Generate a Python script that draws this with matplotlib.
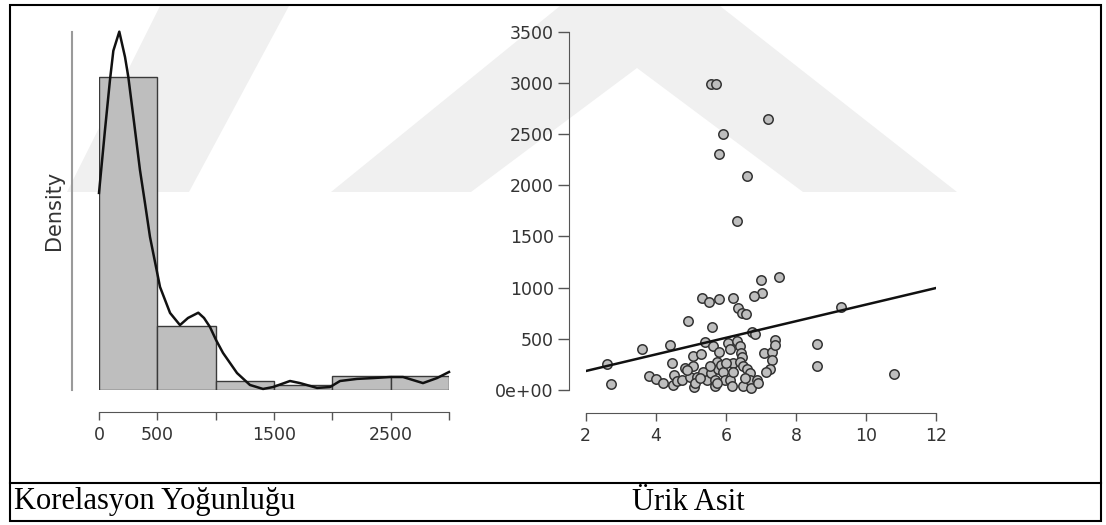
"""
Korelasyon Yoğunluğu histogram + density, Ürik Asit scatter with fit line.
"""
import matplotlib
matplotlib.use("Agg")
import matplotlib.pyplot as plt
from matplotlib.patches import Polygon, Rectangle
from matplotlib.lines import Line2D
import numpy as np

W, H = 1106, 525

# ── data ────────────────────────────────────────────────────────────────
uric = [5.59, 5.72, 7.21, 5.93, 5.81, 6.61, 6.31, 7.52, 7.00,
        7.02, 6.80, 5.31, 5.52, 5.81, 6.21, 6.35, 6.47, 6.59, 4.91, 5.61, 6.74, 6.82, 9.30,
        2.60, 2.72, 3.62, 3.80, 4.02, 4.22, 4.41, 4.45, 4.52, 4.50,
        4.62, 4.74, 4.83, 4.98, 5.07, 5.10, 5.07, 5.17, 5.12, 5.28,
        5.36, 5.40, 5.45, 5.59, 5.64, 5.69, 5.69, 5.74, 5.78, 5.81,
        5.85, 5.93, 5.97, 5.74, 6.07, 6.12, 6.12, 6.21, 6.21, 6.19,
        6.31, 6.40, 6.42, 6.45, 6.40, 6.50, 6.61, 6.50, 6.69, 6.69,
        6.72, 6.88, 6.92, 7.09, 7.31, 7.31, 7.26, 7.16, 7.40, 7.40,
        8.60, 8.60, 10.80, 4.90, 5.25, 5.55, 6.00, 6.55]
korelasyon = [2985, 2985, 2643, 2497, 2302, 2090, 1654, 1107, 1074,
              950, 915, 901, 862, 885, 901, 798, 752, 739, 677, 620, 570, 550, 810,
              250, 60, 400, 135, 112, 70, 440, 260, 150, 50,
              85, 100, 215, 130, 330, 25, 230, 130, 65, 350,
              180, 470, 100, 165, 425, 100, 35, 275, 210, 375,
              245, 180, 100, 65, 455, 405, 100, 260, 180, 40,
              480, 425, 360, 325, 275, 230, 210, 35, 165, 100,
              20, 100, 65, 360, 375, 295, 210, 180, 490, 440,
              445, 230, 155, 200, 120, 230, 260, 120]

hist_bins = [0, 500, 1000, 1500, 2000, 2500, 3000]

# density curve (x, density*1e4)
kde_x = [0, 51, 94, 123, 174, 223, 251, 300, 351, 394, 437, 523, 609, 694, 763, 851,
         900, 951, 1003, 1063, 1183, 1294, 1406, 1491, 1637, 1723, 1869, 1980, 2066,
         2211, 2349, 2494, 2606, 2777, 2897, 3000]
kde_y = [9.41, 12.4, 14.80, 16.2, 17.11, 15.9, 14.96, 12.8, 10.51, 8.93, 7.31, 4.92,
         3.68, 3.10, 3.44, 3.69, 3.44, 3.01, 2.39, 1.77, 0.81, 0.24, 0.05, 0.14, 0.43,
         0.33, 0.10, 0.14, 0.43, 0.53, 0.57, 0.62, 0.62, 0.33, 0.57, 0.86]

fit_intercept = 23
fit_slope = 81.1

hist_xticks = [0, 500, 1000, 1500, 2000, 2500, 3000]
hist_xlabels = ["0", "500", "", "1500", "", "2500", ""]
sc_yticks = [0, 500, 1000, 1500, 2000, 2500, 3000, 3500]
sc_ylabels = ["0e+00", "500", "1000", "1500", "2000", "2500", "3000", "3500"]
sc_xticks = [2, 4, 6, 8, 10, 12]


def px_rect(l, t, r, b):
    return [l / W, 1 - b / H, (r - l) / W, (b - t) / H]


def px(x, y):
    return (x / W, 1 - y / H)


def pt(p):  # pixels -> points at dpi 100
    return p * 0.72


fig = plt.figure(figsize=(W / 100, H / 100), dpi=100)
fig.patch.set_facecolor("white")

# ── faint watermark in the background ────────────────────────────────────
wm = "#f0f0f0"
for poly in ([(67, 192), (189, 192), (289, 6), (160, 6)],
             [(331, 192), (560, 6), (720, 6), (957, 192), (803, 192), (637, 68),
              (471, 192)]):
    fig.add_artist(Polygon([px(*p) for p in poly], closed=True, fc=wm, ec="none",
                           transform=fig.transFigure, zorder=0))

axis_col = "#555555"
lab_col = "#333333"

# ── left: histogram + density ───────────────────────────────────────────
ax1 = fig.add_axes(px_rect(99, 30, 449, 390))
ax1.patch.set_alpha(0)
ax1.hist(korelasyon, bins=hist_bins, density=True, color="#bebebe",
         edgecolor="#3a3a3a", linewidth=1.0, zorder=2)
ax1.plot(kde_x, np.array(kde_y) * 1e-4, color="#111111", lw=1.8, zorder=3,
         clip_on=False, solid_joinstyle="round")
ax1.set_xlim(0, 3000)
ax1.set_ylim(0, 0.001719)
for s in ("top", "right"):
    ax1.spines[s].set_visible(False)
ax1.spines["left"].set_position(("outward", pt(27)))
ax1.spines["left"].set_color("#9a9a9a")
ax1.spines["left"].set_linewidth(1.5)
ax1.spines["left"].set_bounds(0, 0.001709)
ax1.tick_params(axis="y", left=False, labelleft=False)
ax1.spines["bottom"].set_position(("outward", pt(22)))
ax1.spines["bottom"].set_color(axis_col)
ax1.set_xticks(hist_xticks)
ax1.set_xticklabels(hist_xlabels)
ax1.tick_params(axis="x", length=pt(8), width=1, color=axis_col, labelcolor=lab_col,
                labelsize=12.5, pad=4)
ax1.set_ylabel("Density", fontsize=15, color=lab_col, labelpad=6)

# ── right: scatter + fit line ───────────────────────────────────────────
ax2 = fig.add_axes(px_rect(585.7, 31.7, 936, 390))
ax2.patch.set_alpha(0)
ax2.scatter(uric, korelasyon, s=46, c="#bebebe", edgecolors="#333333",
            linewidths=1.1, zorder=3, clip_on=False)
xs = np.array([2, 12])
ax2.plot(xs, fit_intercept + fit_slope * xs, color="#111111", lw=1.8, zorder=4)
ax2.set_xlim(2, 12)
ax2.set_ylim(0, 3500)
for s in ("top", "right"):
    ax2.spines[s].set_visible(False)
ax2.spines["left"].set_position(("outward", pt(16.7)))
ax2.spines["bottom"].set_position(("outward", pt(23)))
for s in ("left", "bottom"):
    ax2.spines[s].set_color(axis_col)
ax2.set_yticks(sc_yticks)
ax2.set_yticklabels(sc_ylabels)
ax2.set_xticks(sc_xticks)
ax2.tick_params(axis="y", length=pt(11), width=1, color=axis_col, labelcolor=lab_col,
                labelsize=12.5, pad=3)
ax2.tick_params(axis="x", length=pt(8), width=1, color=axis_col, labelcolor=lab_col,
                labelsize=12.5, pad=4)

# ── frame and captions ──────────────────────────────────────────────────
fig.add_artist(Rectangle(px(10, 521), (1101 - 10) / W, (521 - 5) / H, fill=False,
                         ec="black", lw=1.5, transform=fig.transFigure, zorder=5))
fig.add_artist(Line2D([10 / W, 1101 / W], [1 - 483 / H] * 2, color="black", lw=1.5,
                      transform=fig.transFigure, zorder=5))
cap_font = dict(family="Liberation Serif", fontsize=22, color="black", va="center")
fig.text(*px(14, 502), "Korelasyon Yoğunluğu", ha="left", **cap_font)
fig.text(*px(632, 502), "Ürik Asit", ha="left", **cap_font)

fig.savefig("out.png", dpi=100)
